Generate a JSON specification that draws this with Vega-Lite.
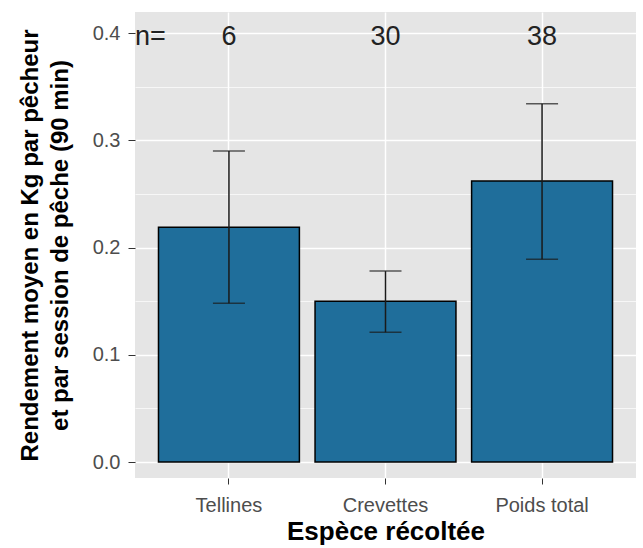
{
  "$schema": "https://vega.github.io/schema/vega-lite/v6.json",
  "width": 501,
  "height": 466,
  "autosize": "none",
  "padding": {"left": 135, "top": 12, "right": 7, "bottom": 70},
  "background": "white",
  "config": {"font": "Liberation Sans", "view": {"fill": "#e5e5e5", "stroke": null}},
  "data": {"values": [
    {"espece": "Tellines", "moyenne": 0.219, "bas": 0.148, "haut": 0.290, "n": "6"},
    {"espece": "Crevettes", "moyenne": 0.150, "bas": 0.121, "haut": 0.178, "n": "30"},
    {"espece": "Poids total", "moyenne": 0.262, "bas": 0.189, "haut": 0.334, "n": "38"}
  ]},
  "encoding": {
    "x": {
      "field": "espece", "type": "nominal", "sort": null,
      "scale": {"paddingInner": 0.1, "paddingOuter": 0.15},
      "axis": {
        "title": "Espèce récoltée", "titleFontSize": 26, "titleFontWeight": "bold", "titleColor": "black", "titlePadding": 3,
        "labelAngle": 0, "labelFontSize": 20, "labelColor": "#4d4d4d", "labelPadding": 11,
        "tickSize": 6, "tickColor": "#333333", "domain": false,
        "grid": true, "gridColor": "white", "gridWidth": 1.5
      }
    }
  },
  "layer": [
    {
      "mark": {"type": "bar", "fill": "#1f6e9b", "stroke": "black", "strokeWidth": 1.5},
      "encoding": {
        "y": {
          "field": "moyenne", "type": "quantitative",
          "scale": {"domain": [-0.0149, 0.4196], "nice": false, "zero": false},
          "axis": {
            "values": [0, 0.05, 0.1, 0.15, 0.2, 0.25, 0.3, 0.35, 0.4],
            "labelExpr": "round(datum.value*100) % 10 == 0 ? format(datum.value, '.1f') : ''",
            "labelFontSize": 20, "labelColor": "#4d4d4d", "labelPadding": 8,
            "tickSize": 7, "tickColor": "#333333",
            "tickOpacity": {"condition": {"test": "round(datum.value*100) % 10 == 0", "value": 1}, "value": 0},
            "domain": false,
            "grid": true, "gridColor": "white",
            "gridWidth": {"condition": {"test": "round(datum.value*100) % 10 == 0", "value": 1.5}, "value": 0.7},
            "title": ["Rendement moyen en Kg par pêcheur", "et par session de pêche (90 min)"],
            "titleFontSize": 24, "titleFontWeight": "bold", "titleColor": "black", "titleLineHeight": 30, "titlePadding": 20
          }
        }
      }
    },
    {
      "mark": {"type": "rule", "color": "#1a1a1a", "strokeWidth": 1.5},
      "encoding": {"y": {"field": "bas", "type": "quantitative"}, "y2": {"field": "haut"}}
    },
    {
      "mark": {"type": "tick", "color": "#1a1a1a", "orient": "horizontal", "size": 32, "thickness": 1.5},
      "encoding": {"y": {"field": "bas", "type": "quantitative"}}
    },
    {
      "mark": {"type": "tick", "color": "#1a1a1a", "orient": "horizontal", "size": 32, "thickness": 1.5},
      "encoding": {"y": {"field": "haut", "type": "quantitative"}}
    },
    {
      "mark": {"type": "text", "fontSize": 27, "baseline": "middle", "dy": 4, "color": "#222222"},
      "encoding": {"y": {"datum": 0.4, "type": "quantitative"}, "text": {"field": "n"}}
    },
    {
      "data": {"values": [{"etiquette": "n="}]},
      "mark": {"type": "text", "fontSize": 27, "baseline": "middle", "align": "left", "dx": -94, "dy": 4, "color": "#222222"},
      "encoding": {"x": {"datum": "Tellines", "type": "nominal"}, "y": {"datum": 0.4, "type": "quantitative"}, "text": {"field": "etiquette"}}
    }
  ]
}
